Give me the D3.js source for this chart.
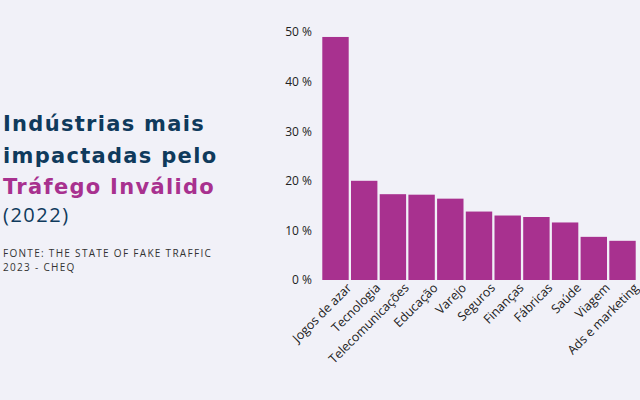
<!DOCTYPE html>
<html>
<head>
<meta charset="utf-8">
<script src="https://cdn.jsdelivr.net/npm/d3@7"></script>
<style>
  body { margin: 0; background: #f1f1f8; }
  svg { display: block; }
</style>
</head>
<body>
<svg id="chart" width="640" height="400"></svg>
<script>
var categories = ["Jogos de azar", "Tecnologia", "Telecomunicações", "Educação", "Varejo",
    "Seguros", "Finanças", "Fábricas", "Saúde", "Viagem", "Ads e marketing"];
var values = [49, 20, 17.3, 17.2, 16.4, 13.8, 13, 12.7, 11.6, 8.7, 7.9];
var ticks = [0, 10, 20, 30, 40, 50];

var svg = d3.select("#chart"),
    margin = {top: 32, right: 2, bottom: 120, left: 320},
    width = 640 - margin.left - margin.right,
    height = 400 - margin.top - margin.bottom;

svg.append("rect").attr("width", 640).attr("height", 400).attr("fill", "#f1f1f8");

// Title block
var navy = "#0f3a5c", magenta = "#a8318f";
var title = svg.append("g").attr("font-family", "'DejaVu Sans', sans-serif").attr("font-size", "21px");
title.append("text").attr("x", 3).attr("y", 131).attr("fill", navy).attr("font-weight", "bold")
    .attr("letter-spacing", "1.3px").text("Indústrias mais");
title.append("text").attr("x", 3).attr("y", 163).attr("fill", navy).attr("font-weight", "bold")
    .attr("letter-spacing", "1.3px").text("impactadas pelo");
title.append("text").attr("x", 3).attr("y", 194).attr("fill", magenta).attr("font-weight", "bold")
    .attr("letter-spacing", "1.3px").text("Tráfego Inválido");
title.append("text").attr("x", 3).attr("y", 222).attr("fill", navy).attr("font-size", "20px")
    .attr("font-family", "'Open Sans', sans-serif")
    .attr("letter-spacing", "1.5px").text("(2022)");
svg.append("text").attr("x", 3).attr("y", 257).attr("fill", "#333")
    .attr("font-family", "'Open Sans', sans-serif").attr("font-size", "10px")
    .attr("letter-spacing", "1.3px").text("FONTE: THE STATE OF FAKE TRAFFIC");
svg.append("text").attr("x", 3).attr("y", 271).attr("fill", "#333")
    .attr("font-family", "'Open Sans', sans-serif").attr("font-size", "10px")
    .attr("letter-spacing", "1.3px").text("2023 - CHEQ");

var x = d3.scaleBand().domain(categories).range([0, width]).padding(0.08),
    y = d3.scaleLinear().domain([0, 50]).range([height, 0]);

var g = svg.append("g")
    .attr("transform", "translate(" + margin.left + "," + margin.top + ")");

g.append("g")
    .attr("class", "axis axis--y")
    .call(d3.axisLeft(y).tickValues(ticks).tickSize(0).tickPadding(8)
        .tickFormat(function (d) { return d + " %"; }))
    .call(function (a) { a.select(".domain").remove(); })
    .selectAll("text")
    .attr("fill", "#222")
    .attr("font-family", "'Open Sans', sans-serif")
    .attr("font-size", "12px");

g.selectAll(".bar")
    .data(values)
    .enter()
    .append("rect")
    .attr("class", "bar")
    .attr("x", function (d, i) { return x(categories[i]); })
    .attr("y", function (d) { return y(d); })
    .attr("width", x.bandwidth())
    .attr("height", function (d) { return height - y(d); })
    .attr("fill", magenta);

g.append("g")
    .attr("class", "axis axis--x")
    .attr("transform", "translate(0," + height + ")")
    .call(d3.axisBottom(x).tickSize(0).tickPadding(0))
    .call(function (a) { a.select(".domain").remove(); })
    .selectAll("text")
    .attr("fill", "#222")
    .attr("font-family", "'Open Sans', sans-serif")
    .attr("font-size", "12.5px")
    .attr("text-anchor", "end")
    .attr("transform", "translate(" + (x.bandwidth() / 2 + 1) + ",6) rotate(-45)")
    .attr("dy", "0.3em")
    .attr("x", 0).attr("y", 0);
</script>
</body>
</html>
